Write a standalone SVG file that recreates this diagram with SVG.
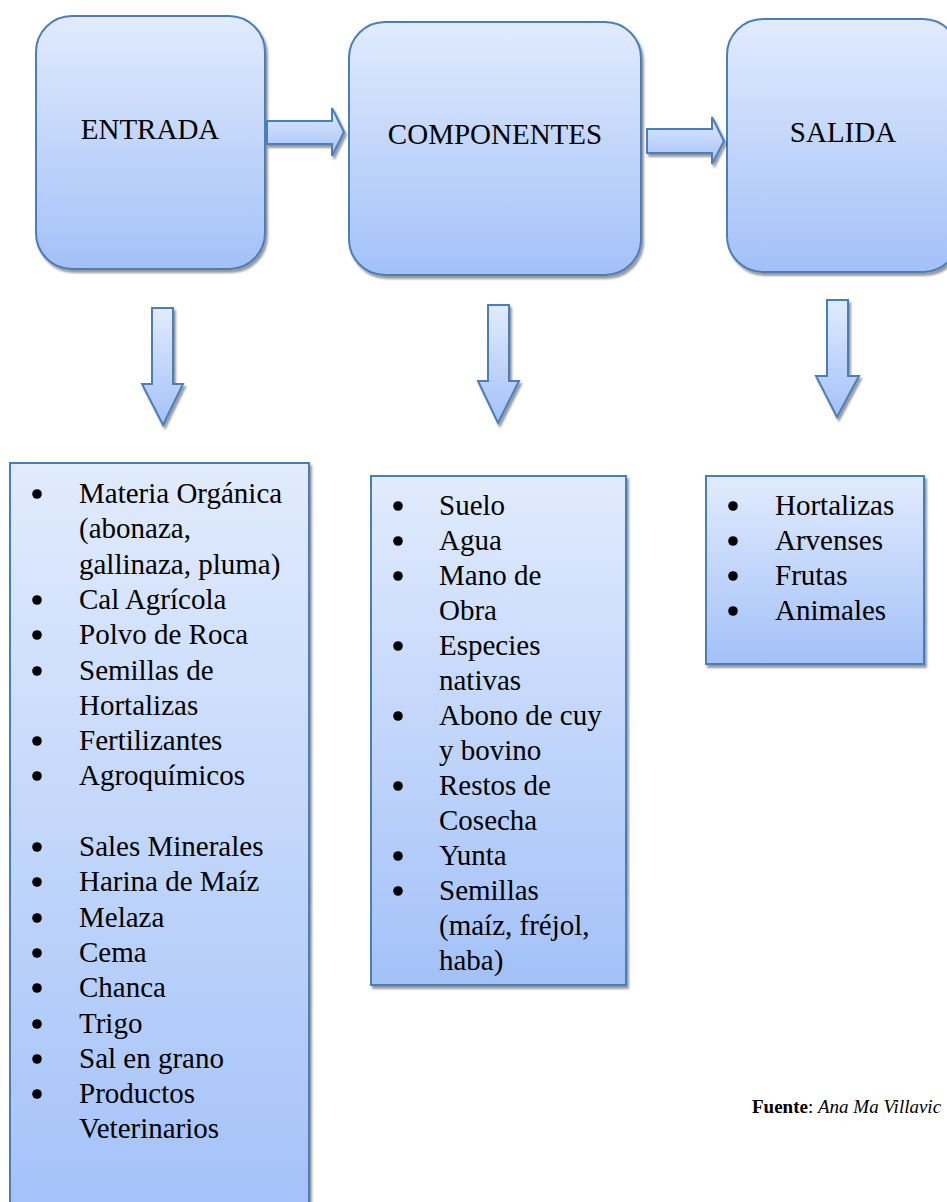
<svg xmlns="http://www.w3.org/2000/svg" width="947" height="1202" viewBox="0 0 947 1202">
  <defs>
    <linearGradient id="fillBlue" x1="0" y1="0" x2="0" y2="1">
      <stop offset="0" stop-color="#e1ebfd"/>
      <stop offset="1" stop-color="#a3c1f8"/>
    </linearGradient>
    <filter id="shadow" x="-10%" y="-10%" width="130%" height="130%">
      <feDropShadow dx="2" dy="3" stdDeviation="1.2" flood-color="#000" flood-opacity="0.4"/>
    </filter>
    <style>
      .shape { fill: url(#fillBlue); stroke: #4a7ebb; stroke-width: 2; filter: url(#shadow); }
      .head { font-family: "Liberation Serif", "Times New Roman", serif; font-size: 29px; fill: #000; text-anchor: middle; }
      .item { font-family: "Liberation Serif", "Times New Roman", serif; font-size: 29px; fill: #000; }
      .dot { fill: #000; }
      .note { font-family: "Liberation Serif", "Times New Roman", serif; font-size: 19px; fill: #000; }
    </style>
  </defs>

  <rect width="947" height="1202" fill="#ffffff"/>

  <!-- process stages -->
  <g id="entrada">
    <rect class="shape" x="36" y="16" width="229" height="253" rx="36" ry="36"/>
    <text class="head" x="150" y="139">ENTRADA</text>
  </g>
  <g id="componentes">
    <rect class="shape" x="349" y="22" width="292" height="253" rx="36" ry="36"/>
    <text class="head" x="495" y="144">COMPONENTES</text>
  </g>
  <g id="salida">
    <rect class="shape" x="727" y="19" width="232" height="253" rx="36" ry="36"/>
    <text class="head" x="843" y="142">SALIDA</text>
  </g>

  <!-- block arrows -->
  <g id="connectors">
    <path class="shape" d="M267,121 H332 V108 L344,132 L332,156 V144 H267 Z"/>
    <path class="shape" d="M647,129 H712 V117 L724,141 L712,164 V153 H647 Z"/>
    <path class="shape" d="M152,308 H173 V384 H183 L163,425 L142,384 H152 Z"/>
    <path class="shape" d="M488,305 H509 V381 H519 L498,423 L478,381 H488 Z"/>
    <path class="shape" d="M827,300 H848 V376 H859 L837,417 L816,376 H827 Z"/>
  </g>

  <!-- inputs list -->
  <g id="lista-entrada">
    <rect class="shape" x="10" y="463" width="299" height="760"/>
    <circle class="dot" cx="37" cy="494" r="4.8"/>
    <text class="item" x="79" y="503">Materia Orgánica</text>
    <text class="item" x="79" y="538">(abonaza,</text>
    <text class="item" x="79" y="574">gallinaza, pluma)</text>
    <circle class="dot" cx="37" cy="600" r="4.8"/>
    <text class="item" x="79" y="609">Cal Agrícola</text>
    <circle class="dot" cx="37" cy="635" r="4.8"/>
    <text class="item" x="79" y="644">Polvo de Roca</text>
    <circle class="dot" cx="37" cy="671" r="4.8"/>
    <text class="item" x="79" y="680">Semillas de</text>
    <text class="item" x="79" y="715">Hortalizas</text>
    <circle class="dot" cx="37" cy="741" r="4.8"/>
    <text class="item" x="79" y="750">Fertilizantes</text>
    <circle class="dot" cx="37" cy="776" r="4.8"/>
    <text class="item" x="79" y="785">Agroquímicos</text>
    <circle class="dot" cx="37" cy="847" r="4.8"/>
    <text class="item" x="79" y="856">Sales Minerales</text>
    <circle class="dot" cx="37" cy="882" r="4.8"/>
    <text class="item" x="79" y="891">Harina de Maíz</text>
    <circle class="dot" cx="37" cy="918" r="4.8"/>
    <text class="item" x="79" y="927">Melaza</text>
    <circle class="dot" cx="37" cy="953" r="4.8"/>
    <text class="item" x="79" y="962">Cema</text>
    <circle class="dot" cx="37" cy="988" r="4.8"/>
    <text class="item" x="79" y="997">Chanca</text>
    <circle class="dot" cx="37" cy="1024" r="4.8"/>
    <text class="item" x="79" y="1033">Trigo</text>
    <circle class="dot" cx="37" cy="1059" r="4.8"/>
    <text class="item" x="79" y="1068">Sal en grano</text>
    <circle class="dot" cx="37" cy="1094" r="4.8"/>
    <text class="item" x="79" y="1103">Productos</text>
    <text class="item" x="79" y="1138">Veterinarios</text>
  </g>

  <!-- components list -->
  <g id="lista-componentes">
    <rect class="shape" x="371" y="476" width="255" height="509"/>
    <circle class="dot" cx="398" cy="506" r="4.8"/>
    <text class="item" x="439" y="515">Suelo</text>
    <circle class="dot" cx="398" cy="541" r="4.8"/>
    <text class="item" x="439" y="550">Agua</text>
    <circle class="dot" cx="398" cy="576" r="4.8"/>
    <text class="item" x="439" y="585">Mano de</text>
    <text class="item" x="439" y="620">Obra</text>
    <circle class="dot" cx="398" cy="646" r="4.8"/>
    <text class="item" x="439" y="655">Especies</text>
    <text class="item" x="439" y="690">nativas</text>
    <circle class="dot" cx="398" cy="716" r="4.8"/>
    <text class="item" x="439" y="725">Abono de cuy</text>
    <text class="item" x="439" y="760">y bovino</text>
    <circle class="dot" cx="398" cy="786" r="4.8"/>
    <text class="item" x="439" y="795">Restos de</text>
    <text class="item" x="439" y="830">Cosecha</text>
    <circle class="dot" cx="398" cy="856" r="4.8"/>
    <text class="item" x="439" y="865">Yunta</text>
    <circle class="dot" cx="398" cy="891" r="4.8"/>
    <text class="item" x="439" y="900">Semillas</text>
    <text class="item" x="439" y="935">(maíz, fréjol,</text>
    <text class="item" x="439" y="970">haba)</text>
  </g>

  <!-- outputs list -->
  <g id="lista-salida">
    <rect class="shape" x="706" y="476" width="218" height="188"/>
    <circle class="dot" cx="733" cy="506" r="4.8"/>
    <text class="item" x="775" y="515">Hortalizas</text>
    <circle class="dot" cx="733" cy="541" r="4.8"/>
    <text class="item" x="775" y="550">Arvenses</text>
    <circle class="dot" cx="733" cy="576" r="4.8"/>
    <text class="item" x="775" y="585">Frutas</text>
    <circle class="dot" cx="733" cy="611" r="4.8"/>
    <text class="item" x="775" y="620">Animales</text>
  </g>

  <!-- source note -->
  <text class="note" x="752" y="1113"><tspan font-weight="bold">Fuente</tspan>: <tspan font-style="italic">Ana Ma Villavic</tspan></text>
</svg>
